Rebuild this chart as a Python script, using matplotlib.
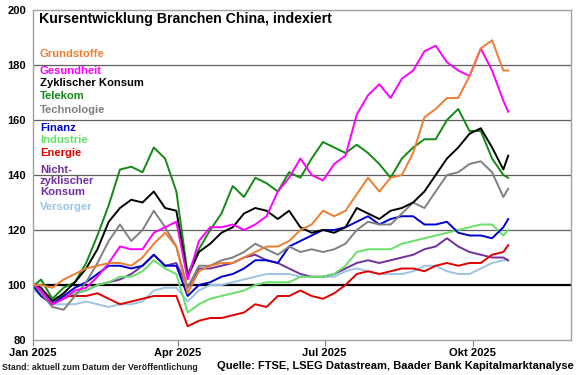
import numpy as np
import matplotlib
matplotlib.use("Agg")
import matplotlib.pyplot as plt

plt.rcParams['font.family'] = ['Liberation Sans', 'DejaVu Sans']

# weekly samples: 2 Jan, Mondays 6 Jan .. 20 Oct, 23 Oct
dates = ([np.datetime64('2025-01-02')]
         + list(np.arange(np.datetime64('2025-01-06'), np.datetime64('2025-10-21'), np.timedelta64(7, 'D')))
         + [np.datetime64('2025-10-23')])

grundstoffe = [100, 100, 99, 102, 104, 106, 107, 108, 108, 107, 110, 115, 119, 114, 97, 105, 107, 108, 108, 110,
               112, 114, 114, 116, 120, 122, 127, 125, 127, 133, 139, 134, 139, 140, 148, 161, 164, 168, 168, 176,
               186, 189, 178, 178]
gesundheit = [100, 98, 93, 95, 98, 99, 103, 108, 114, 113, 113, 119, 121, 123, 102, 116, 121, 121, 122, 120,
              122, 125, 134, 139, 146, 140, 138, 144, 147, 162, 169, 173, 168, 175, 178, 185, 187, 181, 178, 176,
              186, 178, 167, 163]
zykl_konsum = [100, 99, 94, 97, 101, 106, 113, 123, 128, 131, 130, 134, 128, 127, 103, 112, 115, 119, 121, 126,
               128, 127, 124, 127, 121, 119, 120, 119, 121, 128, 126, 124, 127, 128, 130, 134, 140, 146, 150, 155,
               157, 150, 142, 147]
telekom = [100, 102, 95, 99, 101, 108, 118, 129, 142, 143, 141, 150, 146, 134, 104, 113, 120, 126, 136, 132,
           139, 137, 134, 141, 139, 146, 152, 150, 148, 151, 148, 144, 139, 146, 150, 153, 153, 160, 164, 156,
           156, 146, 140, 139]
technologie = [100, 97, 92, 91, 96, 101, 108, 116, 122, 116, 120, 127, 121, 114, 99, 107, 107, 109, 110, 112,
               115, 113, 111, 114, 112, 113, 112, 113, 115, 120, 123, 122, 122, 126, 130, 128, 134, 140, 141, 144,
               145, 141, 132, 135]
finanz = [99, 96, 93, 96, 99, 101, 104, 107, 107, 106, 107, 111, 107, 107, 96, 100, 101, 103, 104, 106,
          109, 109, 108, 114, 116, 118, 120, 120, 121, 123, 125, 122, 124, 125, 125, 122, 122, 123, 119, 118,
          118, 117, 121, 124]
industrie = [99, 97, 95, 96, 97, 98, 100, 101, 103, 103, 105, 109, 106, 104, 90, 93, 95, 96, 97, 98,
             100, 101, 101, 101, 103, 103, 103, 104, 107, 112, 113, 113, 113, 115, 116, 117, 118, 119, 120, 121,
             122, 122, 118, 120]
energie = [100, 98, 95, 96, 96, 96, 97, 95, 93, 94, 95, 96, 96, 96, 85, 87, 88, 88, 89, 90,
           93, 92, 96, 96, 98, 96, 95, 97, 100, 104, 105, 104, 105, 106, 106, 105, 107, 108, 107, 108,
           108, 111, 112, 114.5]
nzykl_konsum = [99, 98, 93, 95, 97, 98, 100, 101, 102, 104, 107, 111, 107, 108, 99, 106, 106, 107, 108, 110,
                111, 109, 108, 106, 104, 103, 103, 104, 106, 108, 109, 108, 109, 110, 111, 113, 114, 117, 114, 112,
                111, 110, 110, 109]
versorger = [98, 96, 93, 93, 93, 94, 93, 92, 93, 93, 94, 98, 99, 99, 94, 98, 100, 100, 101, 102,
             103, 104, 104, 104, 103, 103, 103, 103, 105, 106, 105, 104, 104, 104, 105, 107, 107, 105, 104, 104,
             106, 108, 109, 109]

series = [
    ('Versorger', versorger, '#9DC3E6'),
    ('Nicht-\nzyklischer\nKonsum', nzykl_konsum, '#7030A0'),
    ('Energie', energie, '#E00000'),
    ('Industrie', industrie, '#66E066'),
    ('Finanz', finanz, '#0000CC'),
    ('Technologie', technologie, '#808080'),
    ('Telekom', telekom, '#138A13'),
    ('Zyklischer Konsum', zykl_konsum, '#000000'),
    ('Gesundheit', gesundheit, '#FF00FF'),
    ('Grundstoffe', grundstoffe, '#ED7D31'),
]

# label positions (data y) for the coloured text legend
label_y = {'Grundstoffe': 184, 'Gesundheit': 177.8, 'Zyklischer Konsum': 173.5, 'Telekom': 168.7,
           'Technologie': 163.6, 'Finanz': 157.1, 'Industrie': 152.7, 'Energie': 148,
           'Nicht-\nzyklischer\nKonsum': 137.8, 'Versorger': 128.4}

fig = plt.figure(figsize=(5.8, 3.75), dpi=100)
ax = fig.add_axes([33/580, 35/375, 538/580, 330/375])

for yv in [120, 140, 160, 180]:
    ax.axhline(yv, color='#606060', lw=0.9, zorder=1)
ax.axhline(100, color='black', lw=1.6, zorder=1)

for name, vals, col in series:
    ax.plot(dates, vals, color=col, lw=1.4, zorder=2)
    ax.text(0.013, label_y[name], name, color=col, fontsize=8.1, fontweight='bold',
            transform=ax.get_yaxis_transform(), va='center', ha='left', linespacing=1.1)

ax.text(0.011, 196.7, 'Kursentwicklung Branchen China, indexiert', fontsize=10.2, fontweight='bold',
        transform=ax.get_yaxis_transform(), va='center', ha='left')

ax.set_ylim(80, 200)
ax.set_yticks([80, 100, 120, 140, 160, 180, 200])
ax.set_xlim(np.datetime64('2025-01-01'), np.datetime64('2025-12-01'))
ticks = [np.datetime64(d) for d in ['2025-01-01', '2025-04-01', '2025-07-01', '2025-10-01']]
ax.set_xticks(ticks)
ax.set_xticklabels(['Jan 2025', 'Apr 2025', 'Jul 2025', 'Okt 2025'])

for lab in ax.get_xticklabels() + ax.get_yticklabels():
    lab.set_fontweight('bold')
    lab.set_fontsize(8)
ax.tick_params(axis='y', length=0, pad=5)
ax.tick_params(axis='x', length=4, color='#808080', pad=2)
for sp in ax.spines.values():
    sp.set_color('#A0A0A0')
    sp.set_linewidth(1.0)

fig.text(2/580, 1 - 367/375, 'Stand: aktuell zum Datum der Veröffentlichung', fontsize=6.3,
         va='center', ha='left', fontweight='bold', color='#202020')
fig.text(574/580, 1 - 366/375, 'Quelle: FTSE, LSEG Datastream, Baader Bank Kapitalmarktanalyse',
         fontsize=8.0, va='center', ha='right', fontweight='bold')

fig.savefig('out.png', dpi=100)
